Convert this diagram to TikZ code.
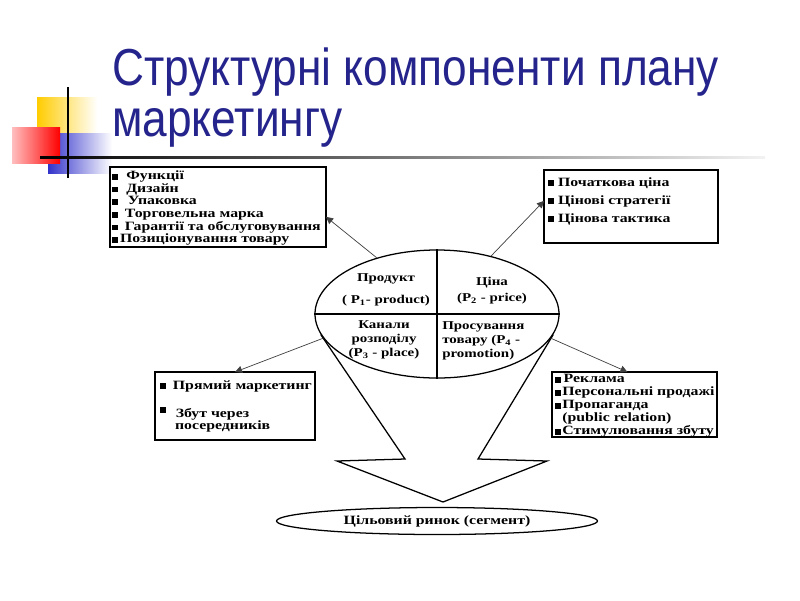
\documentclass[tikz,border=0pt]{standalone}
\usepackage{fontspec}
\setmainfont{Liberation Serif}
\newfontfamily\diag[FakeStretch=1.25]{Liberation Serif}
\newfontfamily\titlefont[FakeStretch=0.85]{Liberation Sans}
\usetikzlibrary{shapes.geometric,arrows.meta}
\definecolor{titleblue}{RGB}{36,36,140}
\definecolor{pixyellow}{RGB}{255,204,0}
\definecolor{pixblue}{RGB}{51,51,204}
\newcommand{\bul}{\rule{4pt}{4pt}}
\tikzset{
  box/.style={draw, line width=0.9pt, anchor=north west, inner sep=0pt, outer sep=0pt},
  list/.style={anchor=north west, align=left, inner sep=0pt, font=\diag\bfseries\fontsize{9}{9}\selectfont},
  lbl/.style={align=center, inner sep=0pt, font=\diag\bfseries\fontsize{8.5}{10}\selectfont},
  link/.style={draw=black!75, line width=0.5pt, -{Triangle[length=5pt,width=5pt]}},
  heading/.style={anchor=base west, inner sep=0pt, text=titleblue, font=\titlefont\fontsize{37}{40}\selectfont},
}
\begin{document}
\begin{tikzpicture}[x=0.025cm,y=-0.025cm]
    \useasboundingbox[fill=white] (0,0) rectangle (800,600);
    % Kvadraty v kutku
    \shade[left color=pixyellow, right color=white] (37,97) rectangle (97,133);
    \shade[left color=pixblue, right color=white] (48,133) rectangle (112,173);
    \shade[left color=red!25, right color=red] (12,127) rectangle (60,163);
    \draw[line width=1.2pt] (68,87) -- (68,178);
    \shade[left color=black, middle color=black!70, right color=black!5] (40,156) rectangle (765,158.5);
    % Zaholovok
    \node[heading] (titleA) at (112,85) {Структурні компоненти плану};
    \node[heading] (titleB) at (112,136) {маркетингу};
    % Voronka
    \node[draw, ellipse, line width=0.9pt, fill=white, minimum width=244*0.025cm, minimum height=128*0.025cm, inner sep=0pt] (mix) at (437,314) {};
    \draw[line width=0.9pt] (mix.190) -- (405,459) -- (337,461) -- (443,502) -- (547,461) -- (478,459) -- (mix.-10);
    \draw[line width=1.2pt] (mix.north) -- (mix.south);
    \draw[line width=0.9pt] (mix.west) -- (mix.east);
    \node[lbl, font=\diag\bfseries\fontsize{8.5}{16}\selectfont] (prodlbl) at (386,290) {Продукт\\( P\textsubscript{1}- product)};
    \node[lbl, font=\diag\bfseries\fontsize{8.5}{11.5}\selectfont] (pricelbl) at (492,291) {Ціна\\(P\textsubscript{2} - price)};
    \node[lbl] (placelbl) at (384,340) {Канали\\розподілу\\(P\textsubscript{3} - place)};
    \node[lbl, anchor=west, align=left] (promolbl) at (442,341) {Просування\\товару (P\textsubscript{4} -\\promotion)};
    % Pryamokutnyky
    \node[box, minimum width=216*0.025cm, minimum height=80*0.025cm] (prodbox) at (110,167) {};
    \node[box, minimum width=174*0.025cm, minimum height=73*0.025cm] (pricebox) at (544,170) {};
    \node[box, minimum width=160*0.025cm, minimum height=68*0.025cm] (placebox) at (155,372) {};
    \node[box, minimum width=165*0.025cm, minimum height=65*0.025cm] (promobox) at (552,372) {};
    \node[list] (prodlist) at (112,170.5) {\bul\hspace{6pt}Функції\\\bul\hspace{6pt}Дизайн\\\bul\hspace{7pt}Упаковка\\\bul\hspace{5pt}Торговельна марка\\\bul\hspace{5pt}Гарантії та обслуговування\\\bul\hspace{1.5pt}Позиціонування товару};
    \node[list, font=\diag\bfseries\fontsize{9}{12.8}\selectfont] (pricelist) at (548,177) {\bul\hspace{3pt}Початкова ціна\\\bul\hspace{3pt}Цінові стратегії\\\bul\hspace{3pt}Цінова тактика};
    \node[list] (placelist) at (160,380) {\bul\hspace{5pt}Прямий маркетинг\\[11pt]\raisebox{3pt}{\bul}\hspace{7pt}Збут через\\\hspace{10.5pt}посередників};
    \node[list, font=\diag\bfseries\fontsize{9}{9.25}\selectfont] (promolist) at (555,374) {\bul\hspace{2pt}Реклама\\\bul\hspace{1pt}Персональні продажі\\\bul\hspace{1pt}Пропаганда\\\hspace{5pt}(public relation)\\\bul\hspace{1pt}Стимулювання збуту};
    % Strilky
    \draw[link] (mix.137) -- ([yshift=-7pt]prodbox.east);
    \draw[link] (mix.47) -- ([yshift=4pt]pricebox.west);
    \draw[link] (mix.192) -- (placebox.north);
    \draw[link] (mix.-12) -- ([xshift=-5pt]promobox.north);
    % Tsilovyi rynok
    \node[draw, ellipse, line width=0.9pt, minimum width=321*0.025cm, minimum height=27*0.025cm, inner sep=0pt, font=\diag\bfseries\fontsize{9}{9}\selectfont] (target) at (437,521) {Цільовий ринок (сегмент)};
\end{tikzpicture}
\end{document}
